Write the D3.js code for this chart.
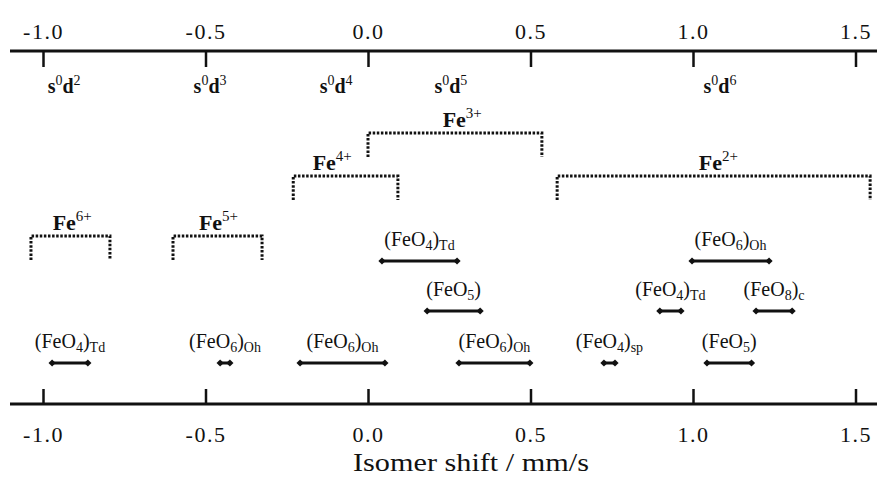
<!DOCTYPE html>
<html>
<head>
<meta charset="utf-8">
<script src="https://cdn.jsdelivr.net/npm/d3@7"></script>
<style>
  body { margin: 0; background: #fff; }
  svg text { font-family: "Liberation Serif", "Times New Roman", "DejaVu Serif", serif; fill: #111; }
</style>
</head>
<body>
<div id="viz"></div>
<script>
// tick values of the isomer shift axis (mm/s)
const tickValues = [-1.0, -0.5, 0.0, 0.5, 1.0, 1.5];

// electron configuration labels, placed at a shift value
const configs = [
    { x: -0.935, d: "2" },
    { x: -0.486, d: "3" },
    { x: -0.098, d: "4" },
    { x: 0.255, d: "5" },
    { x: 1.083, d: "6" }
];

// oxidation state ranges (dotted brackets)
const oxStates = [
    { ion: "3+", from: 0.0, to: 0.535, level: 1, labelAt: 0.29 },
    { ion: "4+", from: -0.23, to: 0.092, level: 2, labelAt: -0.11 },
    { ion: "2+", from: 0.582, to: 1.545, level: 2, labelAt: 1.078 },
    { ion: "6+", from: -1.037, to: -0.794, level: 3, labelAt: -0.91 },
    { ion: "5+", from: -0.6, to: -0.326, level: 3, labelAt: -0.46 }
];

// coordination environments: range, subscript of O, geometry subscript
const sites = [
    { row: "A", from: 0.043, to: 0.274, n: "4", geo: "Td" },
    { row: "A", from: 0.997, to: 1.234, n: "6", geo: "Oh" },
    { row: "B", from: 0.182, to: 0.345, n: "5", geo: "" },
    { row: "B", from: 0.898, to: 0.963, n: "4", geo: "Td" },
    { row: "B", from: 1.194, to: 1.305, n: "8", geo: "c" },
    { row: "C", from: -0.972, to: -0.862, n: "4", geo: "Td" },
    { row: "C", from: -0.455, to: -0.425, n: "6", geo: "Oh" },
    { row: "C", from: -0.209, to: 0.052, n: "6", geo: "Oh" },
    { row: "C", from: 0.28, to: 0.498, n: "6", geo: "Oh" },
    { row: "C", from: 0.726, to: 0.76, n: "4", geo: "sp" },
    { row: "C", from: 1.043, to: 1.18, n: "5", geo: "" }
];

const width = 877;
const height = 477;

const svg = d3.select("#viz")
    .append("svg")
    .attr("width", width)
    .attr("height", height);

const x = d3.scaleLinear()
    .domain([-1, 1.5])
    .range([43, 855.5]);

const rowY = d3.scaleOrdinal()
    .domain(["A", "B", "C"])
    .range([261, 311, 363]);

const levelY = d3.scaleOrdinal()
    .domain([1, 2, 3])
    .range([133, 176, 236]);

const topY = 51;
const bottomY = 404;

// axes
function styleAxis(g) {
    g.attr("font-family", null);
    g.select(".domain")
        .attr("d", `M10,0H${width}`)
        .attr("stroke", "#111")
        .attr("stroke-width", 3);
    g.selectAll(".tick line")
        .attr("stroke", "#111")
        .attr("stroke-width", 2.5);
    g.selectAll(".tick text")
        .attr("font-size", 22)
        .attr("letter-spacing", 1.5)
        .attr("fill", "#111");
}

svg.append("g")
    .attr("transform", `translate(0,${topY})`)
    .call(d3.axisTop(x).tickValues(tickValues).tickFormat(d => d.toFixed(1))
        .tickSize(-16).tickSizeOuter(0).tickPadding(12))
    .call(styleAxis);

svg.append("g")
    .attr("transform", `translate(0,${bottomY})`)
    .call(d3.axisBottom(x).tickValues(tickValues).tickFormat(d => d.toFixed(1))
        .tickSize(-15).tickSizeOuter(0).tickPadding(22))
    .call(styleAxis);

svg.append("text")
    .attr("x", 471)
    .attr("y", 471)
    .attr("text-anchor", "middle")
    .attr("font-size", 25)
    .attr("textLength", 236)
    .attr("lengthAdjust", "spacingAndGlyphs")
    .text("Isomer shift / mm/s");

// s0dn labels
const cfg = svg.selectAll(".cfg")
    .data(configs)
    .enter()
    .append("text")
    .attr("class", "cfg")
    .attr("x", d => x(d.x))
    .attr("y", 93)
    .attr("text-anchor", "middle")
    .attr("font-size", 20);
cfg.append("tspan").attr("font-weight", "bold").text("s");
cfg.append("tspan").attr("font-size", 14).attr("dy", -8).text("0");
cfg.append("tspan").attr("font-weight", "bold").attr("dy", 8).text("d");
cfg.append("tspan").attr("font-size", 14).attr("dy", -8).text(d => d.d);

// dotted brackets for oxidation states
const leg = 24;
svg.selectAll(".ox")
    .data(oxStates)
    .enter()
    .append("path")
    .attr("class", "ox")
    .attr("d", d => {
        const y = levelY(d.level);
        return `M${x(d.from)},${y + leg}V${y}H${x(d.to)}V${y + leg}`;
    })
    .attr("fill", "none")
    .attr("stroke", "#111")
    .attr("stroke-width", 3)
    .attr("stroke-dasharray", "2.5,1.6");

const oxLab = svg.selectAll(".oxlab")
    .data(oxStates)
    .enter()
    .append("text")
    .attr("class", "oxlab")
    .attr("x", d => x(d.labelAt))
    .attr("y", d => levelY(d.level) - 6)
    .attr("text-anchor", "middle")
    .attr("font-size", 22);
oxLab.append("tspan").attr("font-weight", "bold").text("Fe");
oxLab.append("tspan").attr("font-size", 15).attr("dy", -9).text(d => d.ion);

// range bars for coordination sites
svg.selectAll(".bar")
    .data(sites)
    .enter()
    .append("line")
    .attr("class", "bar")
    .attr("x1", d => x(d.from))
    .attr("x2", d => x(d.to))
    .attr("y1", d => rowY(d.row))
    .attr("y2", d => rowY(d.row))
    .attr("stroke", "#111")
    .attr("stroke-width", 3);

const diamond = d3.symbol().type(d3.symbolSquare).size(26);
const ends = sites.flatMap(d => [{ v: d.from, row: d.row }, { v: d.to, row: d.row }]);
svg.selectAll(".end")
    .data(ends)
    .enter()
    .append("path")
    .attr("class", "end")
    .attr("d", diamond)
    .attr("transform", d => `translate(${x(d.v)},${rowY(d.row)}) rotate(45)`)
    .attr("fill", "#111");

const siteLab = svg.selectAll(".sitelab")
    .data(sites)
    .enter()
    .append("text")
    .attr("class", "sitelab")
    .attr("x", d => (x(d.from) + x(d.to)) / 2)
    .attr("y", d => rowY(d.row) - 15)
    .attr("text-anchor", "middle")
    .attr("font-size", 20);
siteLab.append("tspan").text("(FeO");
siteLab.append("tspan").attr("font-size", 14).attr("dy", 4).text(d => d.n);
siteLab.append("tspan").attr("dy", -4).text(")");
siteLab.append("tspan").attr("font-size", 14).attr("dy", 4).text(d => d.geo);
</script>
</body>
</html>
